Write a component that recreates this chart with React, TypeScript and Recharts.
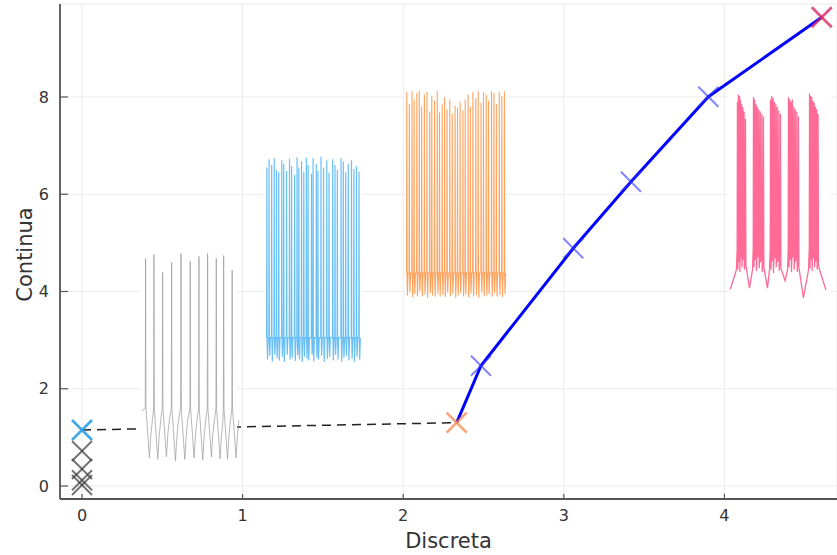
import React from "react";
import {
  ComposedChart,
  Line,
  Scatter,
  XAxis,
  YAxis,
  CartesianGrid,
  ReferenceArea,
} from "recharts";

type Pt = { x: number; y: number };

// ---- main curve (discrete -> continuous) ----
const curveX = [2.333, 2.484, 3.059, 3.418, 3.9, 4.606];
const curveY = [1.302, 2.474, 4.888, 6.258, 8.006, 9.639];

// dashed link from the starting point to the first curve point
const linkX = [0, 2.333];
const linkY = [1.152, 1.302];

// stacked crosses on the x = 0 line
const zeroStackY = [0.72, 0.35, 0.12, 0.02];

// ---- trace 1 (gray, regular spiking) ----
const graySpikeX = [0.396, 0.448, 0.502, 0.558, 0.616, 0.674, 0.728, 0.782, 0.836, 0.882, 0.935];
const graySpikePeak = [4.68, 4.76, 4.39, 4.6, 4.78, 4.62, 4.72, 4.78, 4.68, 4.74, 4.44];
const graySpikeLow = [0.58, 0.55, 0.6, 0.52, 0.55, 0.58, 0.54, 0.6, 0.56, 0.55, 0.58];

// ---- trace 2 (blue, fast spiking) ----
const blueSpikeX = [
  1.151, 1.165, 1.181, 1.197, 1.211, 1.225, 1.244, 1.256, 1.274, 1.292, 1.305, 1.324, 1.339,
  1.35, 1.367, 1.381, 1.397, 1.408, 1.429, 1.439, 1.459, 1.469, 1.488, 1.504, 1.524, 1.538,
  1.561, 1.575, 1.59, 1.613, 1.627, 1.642, 1.658, 1.678, 1.693, 1.709, 1.725,
];
const blueSpikePeak = [
  6.55, 6.72, 6.6, 6.74, 6.5, 6.45, 6.7, 6.62, 6.48, 6.73, 6.58, 6.4, 6.76, 6.55, 6.68, 6.45,
  6.75, 6.6, 6.42, 6.74, 6.62, 6.48, 6.77, 6.55, 6.7, 6.44, 6.72, 6.6, 6.5, 6.74, 6.68, 6.45,
  6.62, 6.7, 6.52, 6.58, 6.46,
];
const blueSpikeLow = [
  2.6, 2.68, 2.56, 2.7, 2.62, 2.58, 2.66, 2.55, 2.7, 2.6, 2.64, 2.57, 2.69, 2.6, 2.55, 2.66,
  2.62, 2.58, 2.7, 2.56, 2.64, 2.6, 2.68, 2.55, 2.62, 2.66, 2.58, 2.7, 2.6, 2.56, 2.64, 2.68,
  2.58, 2.62, 2.55, 2.66, 2.6,
];

// ---- trace 3 (orange, fast spiking at a higher level) ----
const orangeSpikeX = [
  2.022, 2.038, 2.055, 2.068, 2.085, 2.1, 2.115, 2.132, 2.148, 2.165, 2.178, 2.195, 2.212,
  2.226, 2.243, 2.258, 2.273, 2.29, 2.305, 2.323, 2.338, 2.354, 2.372, 2.386, 2.404, 2.418,
  2.434, 2.452, 2.467, 2.485, 2.5, 2.517, 2.531, 2.55, 2.565, 2.58, 2.598, 2.614, 2.63,
];
const orangeSpikePeak = [
  8.1, 7.85, 8.12, 7.95, 8.08, 8.13, 7.8, 8.05, 8.1, 7.7, 8.02, 7.92, 8.12, 7.68, 7.85, 8.0,
  7.75, 7.95, 7.66, 7.82, 7.78, 7.9, 7.72, 7.95, 8.05, 7.8, 8.1, 7.98, 8.12, 7.88, 8.1, 8.05,
  7.92, 8.12, 8.08, 7.85, 8.1, 8.02, 8.12,
];
const orangeSpikeLow = [
  3.92, 3.98, 3.88, 3.95, 3.9, 4.0, 3.9, 3.94, 3.87, 3.97, 3.92, 3.89, 3.96, 3.9, 3.93, 3.88,
  3.98, 3.9, 3.95, 3.87, 3.92, 3.97, 3.9, 3.94, 3.88, 3.96, 3.9, 3.93, 3.87, 3.98, 3.9, 3.92,
  3.95, 3.89, 3.97, 3.9, 3.93, 3.88, 3.95,
];

// ---- trace 4 (crimson, bursting) ----
const burstSpikeX = [
  [4.081, 4.087, 4.094, 4.1, 4.107, 4.114, 4.122, 4.131],
  [4.181, 4.189, 4.197, 4.205, 4.214, 4.223, 4.233, 4.243],
  [4.287, 4.295, 4.303, 4.311, 4.32, 4.329, 4.339, 4.349],
  [4.399, 4.407, 4.415, 4.423, 4.432, 4.441, 4.451, 4.461],
  [4.53, 4.537, 4.544, 4.551, 4.559, 4.567, 4.575, 4.583],
];
const burstSpikePeak = [
  [7.9, 8.05, 8.02, 7.95, 7.85, 7.8, 7.7, 7.55],
  [8.0, 7.95, 7.85, 7.8, 7.75, 7.7, 7.65, 7.6],
  [7.95, 8.02, 7.98, 7.9, 7.85, 7.8, 7.72, 7.65],
  [8.0, 7.95, 7.9, 7.95, 7.8, 7.75, 7.7, 7.6],
  [8.07, 8.02, 8.0, 7.92, 7.88, 7.8, 7.75, 7.65],
];
const burstSpikeLow = [
  [4.45, 4.6, 4.4, 4.7, 4.5, 4.65, 4.45, 4.55],
  [4.5, 4.65, 4.42, 4.7, 4.48, 4.6, 4.4, 4.5],
  [4.45, 4.62, 4.38, 4.68, 4.5, 4.6, 4.42, 4.48],
  [4.5, 4.65, 4.4, 4.7, 4.45, 4.62, 4.4, 4.5],
  [4.48, 4.66, 4.42, 4.7, 4.5, 4.62, 4.45, 4.52],
];
const burstGapX = [4.037, 4.156, 4.268, 4.378, 4.492, 4.632];
const burstGapLow = [4.05, 4.07, 4.07, 4.22, 3.87, 4.03];

// ---- inset frames (white panels behind each trace) ----
const grayFrame = { x1: 0.36, x2: 0.965, y1: 0.35, y2: 4.95 };
const blueFrame = { x1: 1.14, x2: 1.745, y1: 2.4, y2: 6.95 };
const orangeFrame = { x1: 2.012, x2: 2.648, y1: 3.75, y2: 8.3 };
const crimsonFrame = { x1: 4.025, x2: 4.66, y1: 3.7, y2: 8.3 };

const zip = (xs: number[], ys: number[]): Pt[] => xs.map((x, i) => ({ x, y: ys[i] }));

// gray: spike, fall to the trough, rounded recovery to the plateau
function buildGray(): Pt[] {
  const plateau = 1.6;
  const pts: Pt[] = [{ x: 0.372, y: 1.55 }];
  graySpikeX.forEach((t, i) => {
    pts.push({ x: t - 0.002, y: plateau });
    pts.push({ x: t, y: graySpikePeak[i] });
    pts.push({ x: t + 0.002, y: plateau });
    pts.push({ x: t + 0.024, y: graySpikeLow[i] });
    pts.push({ x: t + 0.032, y: graySpikeLow[i] + 0.45 });
    pts.push({ x: t + 0.042, y: 1.35 });
  });
  return pts;
}

// fast spiking: spike, short undershoot, back to baseline
function buildFast(xs: number[], peaks: number[], lows: number[], base: number): Pt[] {
  const pts: Pt[] = [];
  xs.forEach((t, i) => {
    pts.push({ x: t - 0.0015, y: base });
    pts.push({ x: t, y: peaks[i] });
    pts.push({ x: t + 0.0015, y: base });
    pts.push({ x: t + 0.004, y: lows[i] });
    pts.push({ x: t + 0.008, y: base });
  });
  return pts;
}

// bursting: depolarised plateau carrying a fast spike train, then a slow trough
function buildBursts(): Pt[] {
  const pts: Pt[] = [{ x: burstGapX[0], y: burstGapLow[0] }];
  burstSpikeX.forEach((spikes, b) => {
    pts.push({ x: spikes[0] - 0.006, y: 4.45 });
    spikes.forEach((s, k) => {
      pts.push({ x: s - 0.0015, y: 4.9 });
      pts.push({ x: s, y: burstSpikePeak[b][k] });
      pts.push({ x: s + 0.0025, y: burstSpikeLow[b][k] });
    });
    pts.push({ x: burstGapX[b + 1], y: burstGapLow[b + 1] });
  });
  return pts;
}

const curveData = zip(curveX, curveY);
const linkData = zip(linkX, linkY);
const grayData = buildGray();
const blueData = buildFast(blueSpikeX, blueSpikePeak, blueSpikeLow, 3.05);
const orangeData = buildFast(orangeSpikeX, orangeSpikePeak, orangeSpikeLow, 4.38);
const crimsonData = buildBursts();

const makeCross =
  (color: string, opacity: number, half: number, width: number) =>
  (props: any) => {
    const { cx, cy } = props;
    if (cx == null || cy == null) return <g />;
    return (
      <g>
        <line x1={cx - half} y1={cy - half} x2={cx + half} y2={cy + half}
          stroke={color} strokeOpacity={opacity} strokeWidth={width} />
        <line x1={cx - half} y1={cy + half} x2={cx + half} y2={cy - half}
          stroke={color} strokeOpacity={opacity} strokeWidth={width} />
      </g>
    );
  };

const FONT = "'DejaVu Sans', sans-serif";

const YTitle = (props: any) => {
  const vb = props.viewBox || {};
  const cx = (vb.x ?? 0) + 32;
  const cy = (vb.y ?? 0) + (vb.height ?? 0) / 2 + 3;
  return (
    <text x={cx} y={cy} transform={`rotate(-90 ${cx} ${cy})`} textAnchor="middle"
      fontFamily={FONT} fontSize={21} fill="#333">
      Continua
    </text>
  );
};

const XTitle = (props: any) => {
  const vb = props.viewBox || {};
  const cx = (vb.x ?? 0) + (vb.width ?? 0) / 2;
  const cy = (vb.y ?? 0) + 49;
  return (
    <text x={cx} y={cy} textAnchor="middle" fontFamily={FONT} fontSize={21} fill="#333">
      Discreta
    </text>
  );
};

export default function App() {
  const tickStyle = { fontFamily: FONT, fontSize: 16, fill: "#333" };
  return (
    <div style={{ position: "absolute", left: 0, top: 0, background: "#fff" }}>
      <ComposedChart width={837} height={555} margin={{ top: 4, right: 0, bottom: 0, left: 0 }}>
        <CartesianGrid stroke="#ebebeb" strokeWidth={1} />
        <XAxis
          type="number"
          dataKey="x"
          domain={[-0.137, 4.701]}
          ticks={[0, 1, 2, 3, 4]}
          allowDataOverflow
          height={56}
          tickSize={-5}
          tickMargin={16}
          tick={tickStyle}
          axisLine={{ stroke: "#555", strokeWidth: 1.8 }}
          tickLine={{ stroke: "#555", strokeWidth: 1.2 }}
          label={<XTitle />}
        />
        <YAxis
          type="number"
          dataKey="y"
          domain={[-0.267, 9.912]}
          ticks={[0, 2, 4, 6, 8]}
          allowDataOverflow
          width={60}
          tickSize={-8}
          tickMargin={19}
          tick={tickStyle}
          axisLine={{ stroke: "#555", strokeWidth: 1.8 }}
          tickLine={{ stroke: "#555", strokeWidth: 1.2 }}
          label={<YTitle />}
        />

        <Line
          data={linkData}
          dataKey="y"
          stroke="#222"
          strokeWidth={1.5}
          strokeDasharray="9 6"
          dot={false}
          isAnimationActive={false}
          zIndex={300}
        />

        {[grayFrame, blueFrame, orangeFrame, crimsonFrame].map((f, i) => (
          <ReferenceArea
            key={i}
            x1={f.x1}
            x2={f.x2}
            y1={f.y1}
            y2={f.y2}
            fill="#fff"
            fillOpacity={1}
            stroke="none"
            ifOverflow="visible"
            zIndex={350}
          />
        ))}

        <Line data={grayData} dataKey="y" stroke="#9a9a9a" strokeWidth={0.8} strokeOpacity={0.9}
          dot={false} isAnimationActive={false} zIndex={400} />
        <Line data={blueData} dataKey="y" stroke="#1a9cf0" strokeWidth={1.2} strokeOpacity={0.65}
          dot={false} isAnimationActive={false} zIndex={400} />
        <Line data={orangeData} dataKey="y" stroke="#ff7a1a" strokeWidth={1.1} strokeOpacity={0.7}
          dot={false} isAnimationActive={false} zIndex={400} />
        <Line data={crimsonData} dataKey="y" stroke="#ff1a5e" strokeWidth={1.3} strokeOpacity={0.65}
          dot={false} isAnimationActive={false} zIndex={400} />

        <Line data={curveData} dataKey="y" stroke="#0000ff" strokeWidth={3}
          dot={false} isAnimationActive={false} zIndex={410} />

        <Scatter data={curveData.slice(1, 5)} shape={makeCross("#3030ff", 0.6, 10, 2)}
          isAnimationActive={false} zIndex={600} />
        <Scatter data={zeroStackY.map((y) => ({ x: 0, y }))} shape={makeCross("#444", 0.75, 10, 2)}
          isAnimationActive={false} zIndex={600} />
        <Scatter data={[linkData[0]]} shape={makeCross("#2fa0e8", 0.9, 10, 2.6)}
          isAnimationActive={false} zIndex={600} />
        <Scatter data={[curveData[0]]} shape={makeCross("#f7864e", 0.75, 10, 2.6)}
          isAnimationActive={false} zIndex={600} />
        <Scatter data={[curveData[5]]} shape={makeCross("#d62a64", 0.8, 10, 2.6)}
          isAnimationActive={false} zIndex={600} />
      </ComposedChart>
    </div>
  );
}
